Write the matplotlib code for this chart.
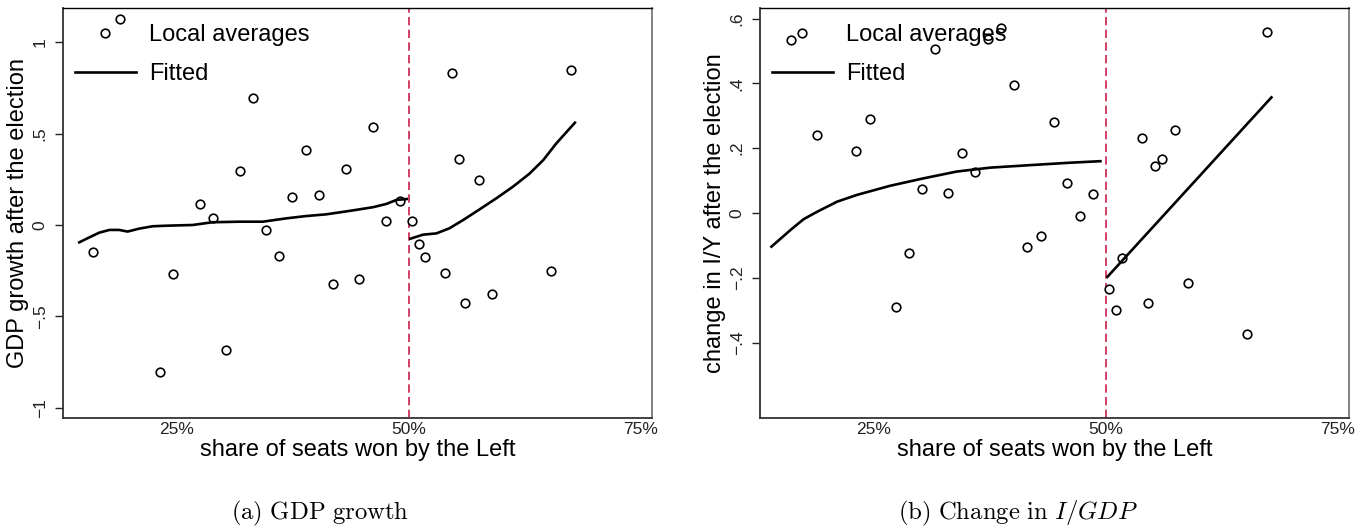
import numpy as np
import matplotlib
matplotlib.use("Agg")
import matplotlib.pyplot as plt

plt.rcParams['font.family'] = ['Liberation Sans', 'DejaVu Sans']
plt.rcParams['mathtext.fontset'] = 'cm'

# local averages and fitted curves, GDP growth panel
gdp_x = [16.05, 18.93, 23.2, 24.6, 27.5, 28.95, 30.36, 31.8, 33.2, 34.67, 36.1,
         37.5, 38.98, 40.4, 41.85, 43.3, 44.7, 46.15, 47.6, 49.04,
         50.4, 51.1, 51.8, 53.96, 54.7, 55.4, 56.07, 57.6, 58.96, 65.35, 67.5]
gdp_y = [-0.148, 1.126, -0.805, -0.27, 0.115, 0.04, -0.685, 0.297, 0.696, -0.027, -0.168,
         0.153, 0.408, 0.166, -0.322, 0.304, -0.293, 0.534, 0.024, 0.13,
         0.02, -0.104, -0.175, -0.26, 0.832, 0.362, -0.426, 0.246, -0.375, -0.251, 0.849]
gdp_fit_lx = [14.55, 15.3, 16.7, 17.8, 18.85, 19.75, 21.0, 22.45, 23.9, 26.76, 28.9,
              31.8, 34.3, 36.8, 39.0, 41.1, 43.65, 46.15, 47.6, 48.7, 49.8]
gdp_fit_ly = [-0.095, -0.076, -0.042, -0.027, -0.027, -0.036, -0.02, -0.007, -0.004, 0.0, 0.015,
              0.018, 0.018, 0.036, 0.049, 0.058, 0.077, 0.097, 0.115, 0.137, 0.142]
gdp_fit_rx = [50.2, 51.55, 52.99, 54.4, 55.87, 57.66, 59.45, 61.25, 63.0, 64.5, 65.9, 67.9]
gdp_fit_ry = [-0.075, -0.053, -0.046, -0.018, 0.027, 0.086, 0.146, 0.21, 0.28, 0.355, 0.446, 0.559]

# local averages and fitted curves, investment panel
inv_x = [16.14, 18.96, 23.18, 24.6, 27.43, 28.83, 30.26, 31.65, 33.08, 34.5, 35.94,
         37.37, 38.7, 40.13, 41.56, 43.0, 44.4, 45.8, 47.2, 48.64,
         50.36, 51.07, 51.8, 53.9, 54.6, 55.33, 56.04, 57.5, 58.87, 65.24, 67.4]
inv_y = [0.534, 0.242, 0.191, 0.291, -0.289, -0.123, 0.075, 0.505, 0.061, 0.186, 0.127,
         0.538, 0.570, 0.394, -0.104, -0.071, 0.282, 0.094, -0.008, 0.059,
         -0.234, -0.300, -0.140, 0.232, -0.278, 0.145, 0.166, 0.255, -0.217, -0.373, 0.560]
inv_fit_lx = [14.03, 16.1, 17.5, 18.96, 21.1, 23.25, 26.8, 30.4, 33.98, 37.55, 42.0, 46.0, 49.44]
inv_fit_ly = [-0.104, -0.052, -0.019, 0.004, 0.035, 0.056, 0.084, 0.107, 0.128, 0.140, 0.148, 0.155, 0.160]
inv_fit_rx = [50.2, 67.85]
inv_fit_ry = [-0.197, 0.357]

xticks = [25, 50, 75]
xticklabels = ['25%', '50%', '75%']
gdp_yticks = [1, 0.5, 0, -0.5, -1]
gdp_yticklabels = ['1', '.5', '0', '\u2212.5', '\u22121']
inv_yticks = [0.6, 0.4, 0.2, 0, -0.2, -0.4]
inv_yticklabels = ['.6', '.4', '.2', '0', '\u2212.2', '\u2212.4']

fig = plt.figure(figsize=(13.72, 5.31), dpi=100)
ax1 = fig.add_axes([63/1372, 1-418/531, 589/1372, 410/531])
ax2 = fig.add_axes([760/1372, 1-418/531, 589/1372, 410/531])


def draw_panel(ax, x, y, lx, ly, rx, ry, yticks, yticklabels, ylim, ylabel):
    ax.plot(x, y, 'o', ms=6.2, mfc='white', mec='black', mew=1.2, ls='none',
            label='Local averages', zorder=3)
    ax.plot(lx, ly, color='black', lw=1.9, label='Fitted', zorder=4)
    ax.plot(rx, ry, color='black', lw=1.9, zorder=4)
    ax.axvline(50, color='#cc1f4a', lw=1.2, ls=(0, (5, 2.6)), zorder=2)
    ax.set_xlim(12.8, 76.2)
    ax.set_ylim(*ylim)
    ax.set_xticks(xticks)
    ax.set_xticklabels(xticklabels, fontsize=12.5)
    ax.set_yticks(yticks)
    ax.set_yticklabels(yticklabels, fontsize=12.5, rotation=90, va='center')
    ax.tick_params(axis='x', length=0, pad=3, colors='#222222')
    ax.tick_params(axis='y', length=6, width=1, pad=5, colors='#222222')
    for side in ['left', 'bottom']:
        ax.spines[side].set_color('#333333')
        ax.spines[side].set_linewidth(1.3)
    ax.spines['top'].set_color('black')
    ax.spines['top'].set_linewidth(1.0)
    ax.spines['right'].set_color('#777777')
    ax.spines['right'].set_linewidth(1.3)
    ax.set_xlabel('share of seats won by the Left', fontsize=17)
    ax.xaxis.set_label_coords(0.5, -0.052)
    ax.set_ylabel(ylabel, fontsize=17)
    ax.yaxis.set_label_coords(-0.058, 0.5)
    ax.legend(loc='upper left', bbox_to_anchor=(0.012, 0.972), frameon=False,
              fontsize=17, handlelength=2.6, handletextpad=0.55,
              labelspacing=0.72, borderpad=0.2, borderaxespad=0)


draw_panel(ax1, gdp_x, gdp_y, gdp_fit_lx, gdp_fit_ly, gdp_fit_rx, gdp_fit_ry,
           gdp_yticks, gdp_yticklabels, (-1.055, 1.186), 'GDP growth after the election')
draw_panel(ax2, inv_x, inv_y, inv_fit_lx, inv_fit_ly, inv_fit_rx, inv_fit_ry,
           inv_yticks, inv_yticklabels, (-0.633, 0.633), 'change in I/Y after the election')

fig.text(320/1372, 1-513/531, r'$\mathrm{(a)\ GDP\ growth}$', fontsize=17.8,
         ha='center', va='center')
fig.text(1018/1372, 1-513/531, r'$\mathrm{(b)\ Change\ in\ }I/GDP$', fontsize=17.8,
         ha='center', va='center')

fig.savefig('out.png', dpi=100)
